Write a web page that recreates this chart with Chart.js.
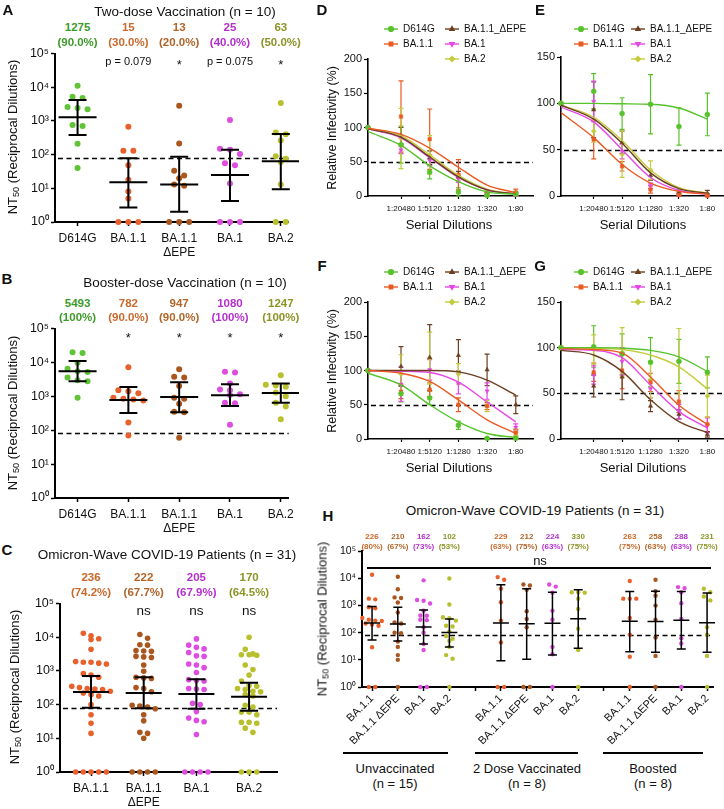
<!DOCTYPE html>
<html>
<head>
<meta charset="utf-8">
<title>Neutralization of Omicron subvariants</title>
<script src="https://cdn.jsdelivr.net/npm/chart.js@4.4.1/dist/chart.umd.min.js"></script>
<style>
  body { margin: 0; background: #fff; }
  #fig { position: relative; width: 724px; height: 809px; overflow: hidden; font-family: "Liberation Sans", Arial, sans-serif; color: #111; }
  #fig canvas { position: absolute; }
  .lbl { position: absolute; white-space: nowrap; line-height: 1; transform: translate(-50%, -50%); }
  .bar { position: absolute; background: #000; }
  sub { font-size: 70%; vertical-align: -2px; line-height: 0; }
</style>
</head>
<body>
<div id="fig"></div>
<script>
// ---------- A: two-dose vaccinated sera ----------
const variants = ['D614G', 'BA.1.1', 'BA.1.1\nΔEPE', 'BA.1', 'BA.2'];
const twoDoseD614G = [11000, 5200, 4800, 2600, 2400, 2200, 750, 700, 210, 40];
const twoDoseBA11 = [665, 130, 130, 48, 18, 8, 5, 1, 1, 1];
const twoDoseEPE = [2800, 215, 33, 24, 20, 13, 12, 1, 1, 1];
const twoDoseBA1 = [1070, 150, 140, 105, 55, 48, 14, 1, 1, 1];
const twoDoseBA2 = [3400, 450, 400, 260, 90, 75, 60, 13, 1, 1];
const twoDoseGMT = [1275, 15, 13, 25, 63];
const twoDoseLow = [380, 2.7, 2.0, 4.2, 9.4];
const twoDoseHigh = [4200, 78, 87, 140, 410];
const twoDosePct = ['90.0%', '30.0%', '20.0%', '40.0%', '50.0%'];
const twoDoseSig = ['', 'p = 0.079', '*', 'p = 0.075', '*'];

// ---------- B: booster-dose sera ----------
const boostD614G = [20000, 19000, 9800, 6500, 5500, 5200, 3600, 3000, 2800, 900];
const boostBA11 = [7200, 1500, 1400, 1230, 900, 850, 800, 750, 170, 70];
const boostEPE = [6300, 3800, 3600, 2000, 900, 850, 600, 350, 340, 60];
const boostBA1 = [5300, 5000, 2400, 1600, 1500, 1150, 1100, 650, 620, 145];
const boostBA2 = [4200, 2200, 2100, 1900, 1600, 1300, 1000, 650, 500, 210];
const boostGMT = [5493, 782, 947, 1080, 1247];
const boostLow = [2800, 320, 340, 520, 650];
const boostHigh = [11000, 1880, 2600, 2250, 2400];
const boostPct = ['100%', '90.0%', '90.0%', '100%', '100%'];
const boostSig = ['', '*', '*', '*', '*'];

// ---------- C: Omicron-wave patients ----------
const omiVariants = ['BA.1.1', 'BA.1.1\nΔEPE', 'BA.1', 'BA.2'];
const omiBA11 = [13000, 11000, 9000, 8500, 4400, 1900, 1800, 1800, 1700, 1600, 830, 750, 650, 350, 320, 300, 290, 280, 250, 220, 200, 180, 100, 50, 28, 14, 1, 1, 1, 1, 1];
const omiEPE = [12000, 9300, 6000, 5800, 4000, 3900, 3800, 2700, 2600, 2500, 1500, 980, 650, 620, 600, 320, 300, 240, 95, 90, 85, 75, 50, 33, 15, 14, 10, 1, 1, 1, 1];
const omiBA1 = [8900, 5800, 5000, 4500, 3500, 2800, 2700, 1600, 1500, 1250, 900, 550, 520, 500, 300, 290, 280, 110, 100, 62, 40, 34, 31, 13, 1, 1, 1, 1];
const omiBA2 = [10000, 4400, 3200, 3000, 3000, 2900, 1500, 1100, 750, 500, 370, 350, 300, 280, 250, 240, 200, 180, 95, 85, 60, 60, 50, 30, 30, 28, 20, 15, 1, 1, 1];
const omiGMT = [236, 222, 205, 170];
const omiLow = [81, 78, 75, 66];
const omiHigh = [700, 650, 565, 445];
const omiPct = ['74.2%', '67.7%', '67.9%', '64.5%'];
const omiSig = ['', 'ns', 'ns', 'ns'];

// ---------- H: Omicron-wave patients by vaccination status ----------
const hLabels = ['BA.1.1', 'BA.1.1 ΔEPE', 'BA.1', 'BA.2'];
const cohorts = ['Unvaccinated', '2 Dose Vaccinated', 'Boosted'];
const cohortN = ['(n = 15)', '(n = 8)', '(n = 8)'];
const unvaccinated = [
  [13700, 1800, 1700, 870, 800, 350, 300, 280, 270, 220, 200, 180, 29, 1, 1],
  [11500, 4000, 2000, 1900, 1300, 560, 240, 220, 100, 95, 47, 30, 15, 10, 1],
  [8500, 1600, 1500, 1200, 650, 430, 420, 300, 290, 160, 100, 38, 23, 1, 1],
  [10000, 1100, 370, 340, 280, 180, 170, 110, 75, 60, 50, 30, 15, 11, 1]
];
const twoDoseVacc = [
  [11200, 8900, 4200, 1330, 280, 44, 1, 1],
  [6000, 5500, 3800, 620, 320, 160, 1, 1],
  [6000, 5000, 3000, 650, 300, 30, 16, 1],
  [3100, 3100, 3000, 1800, 750, 140, 23, 1]
];
const boosted = [
  [8000, 1800, 1800, 1800, 350, 85, 13, 1],
  [9000, 3400, 2300, 1000, 300, 67, 14, 1],
  [4800, 4400, 3100, 1230, 320, 63, 40, 1],
  [4150, 3100, 2150, 1550, 160, 85, 14, 1]
];
const hGMT = [226, 210, 162, 102, 229, 212, 224, 330, 263, 258, 288, 231];
const hLow = [54, 50, 38, 30, 9.2, 10.5, 15, 27, 20, 19, 25, 19];
const hHigh = [920, 870, 690, 320, 5800, 4150, 3100, 3800, 3300, 3400, 3300, 2900];
const hPct = ['80%', '67%', '73%', '53%', '63%', '75%', '63%', '75%', '75%', '63%', '63%', '75%'];

// ---------- D-G: neutralization curves ----------
const dilutions = ['1:20480', '1:5120', '1:1280', '1:320', '1:80'];
const seriesNames = ['D614G', 'BA.1.1', 'BA.1.1_ΔEPE', 'BA.1', 'BA.2'];
const dPoints = [[100, 75, 35, 6, 1, 3], [100, 116, 83, 31, 3, 5], [100, 88, 56, 28, 3, 3], [100, 67, 52, 25, 3, 2], [100, 84, 60, 27, 4, 3]];
const dErrors = [[0, 27, 10, 6, 2, 3], [0, 52, 44, 22, 4, 5], [0, 12, 10, 8, 2, 2], [0, 5, 8, 5, 2, 2], [0, 44, 28, 5, 3, 2]];
const dFits = [[94, 74, 44, 21, 6, 2.5], [99, 90, 70, 42, 16, 5], [98, 86, 57, 28, 9, 3], [98, 85, 56, 27, 9, 3], [99, 88, 60, 30, 10, 3]];
const ePoints = [[100, 113, 89, 99, 75, 88], [100, 61, 32, 7, 1, 0], [100, 93, 58, 22, 4, 3], [100, 102, 48, 11, 3, 1], [100, 70, 45, 28, 4, 2]];
const eErrors = [[0, 19, 17, 32, 20, 23], [0, 21, 5, 4, 1, 1], [0, 30, 12, 5, 2, 3], [0, 22, 8, 3, 2, 1], [0, 12, 25, 10, 2, 1]];
const eFits = [[100, 100, 99.5, 99, 95, 83], [90, 63, 34, 14, 5, 2], [98, 83, 57, 25, 8, 3], [96, 80, 50, 20, 6, 2], [98, 85, 60, 28, 9, 3]];
const fPoints = [[100, 66, 60, 20, 1, 1], [100, 69, 72, 50, 48, 9], [100, 106, 119, 122, 101, 50], [100, 80, 101, 81, 70, 17], [100, 95, 118, 95, 48, 10]];
const fErrors = [[0, 12, 10, 6, 1, 1], [0, 10, 10, 10, 5, 5], [0, 29, 48, 23, 23, 13], [0, 25, 15, 15, 12, 5], [0, 28, 38, 15, 8, 5]];
const fFits = [[96, 79, 50, 25, 8, 2], [100, 96, 84, 57, 28, 8], [100, 100, 100, 98, 86, 64], [100, 99, 97, 83, 54, 25], null];
const gPoints = [[100, 101, 93, 84, 85, 73], [100, 73, 75, 62, 41, 16], [100, 58, 68, 36, 27, 5], [100, 70, 85, 55, 30, 15], [100, 98, 95, 65, 85, 47]];
const gErrors = [[0, 23, 22, 27, 24, 17], [0, 10, 20, 10, 12, 8], [0, 12, 25, 6, 5, 3], [0, 10, 15, 10, 8, 8], [0, 16, 27, 20, 36, 23]];
const gFits = [[100, 100, 99.5, 97, 90, 74], [99, 98, 94, 68, 37, 16], [97, 92, 74, 43, 19, 7], [98, 97, 89, 59, 30, 12], [100, 99.5, 98, 92, 79, 55]];

const cutoff = 80;      // NT50 detection limit
const halfMax = 50;     // 50% infectivity

// colours: D614G, BA.1.1, BA.1.1 ΔEPE, BA.1, BA.2
const dotColor = ['#5fc537', '#e8612c', '#a9571f', '#dd4ee0', '#b9c02d'];
const numColor = ['#3f9a2c', '#c9692c', '#b06428', '#b52fcf', '#8c9426'];
const lineColor = ['#58c22c', '#ea5b22', '#6b3f1f', '#e548e5', '#c4cc3e'];
const shapes = [['circle', 0], ['rect', 0], ['triangle', 0], ['triangle', 180], ['rectRot', 0]];

const FONT = '"Liberation Sans", Arial, sans-serif';
Chart.defaults.font.family = FONT;
Chart.defaults.animation = false;
const fig = document.getElementById('fig');
const decades = [1, 10, 100, 1000, 10000, 100000];
const sup = ['⁰', '¹', '²', '³', '⁴', '⁵'];

function put(x, y, html, css) {
  const d = document.createElement('div');
  d.className = 'lbl';
  d.style.cssText = (css || '') + ';left:' + x + 'px;top:' + y + 'px';
  d.innerHTML = html;
  fig.appendChild(d);
  return d;
}

function hbar(x1, x2, y, h) {
  const d = document.createElement('div');
  d.className = 'bar';
  d.style.cssText = `left:${x1}px;top:${y - h / 2}px;width:${x2 - x1}px;height:${h}px`;
  fig.appendChild(d);
}

function makeCanvas(area, pad) {
  const [L, T, R, B] = area;
  const left = L - pad.l, top = T - pad.t;
  const w = R + pad.r - left, h = B + pad.b - top;
  const c = document.createElement('canvas');
  c.width = w; c.height = h;
  c.style.left = left + 'px'; c.style.top = top + 'px';
  c.style.width = w + 'px'; c.style.height = h + 'px';
  fig.appendChild(c);
  return { el: c, left, top };
}

// dashed reference line
const cutLine = (value) => ({
  id: 'cutLine',
  beforeDatasetsDraw(chart) {
    const { ctx, chartArea: a, scales: { y } } = chart;
    const py = Math.round(y.getPixelForValue(value)) + 0.5;
    ctx.save();
    ctx.setLineDash([5, 3.5]);
    ctx.lineWidth = 1.6;
    ctx.strokeStyle = '#000';
    ctx.beginPath(); ctx.moveTo(a.left + 3, py); ctx.lineTo(a.right, py); ctx.stroke();
    ctx.restore();
  }
});

// geometric mean with 95% CI
const meanCI = (o) => ({
  id: 'meanCI',
  afterDatasetsDraw(chart) {
    const { ctx, scales: { x, y } } = chart;
    ctx.save();
    ctx.strokeStyle = '#000';
    ctx.lineWidth = o.lw;
    o.xs.forEach((xv, i) => {
      const px = x.getPixelForValue(xv);
      const ym = y.getPixelForValue(o.gm[i]), yl = y.getPixelForValue(o.lo[i]), yh = y.getPixelForValue(o.hi[i]);
      ctx.beginPath();
      ctx.moveTo(px, yh); ctx.lineTo(px, yl);
      ctx.moveTo(px - o.capHalf, yh); ctx.lineTo(px + o.capHalf, yh);
      ctx.moveTo(px - o.capHalf, yl); ctx.lineTo(px + o.capHalf, yl);
      ctx.moveTo(px - o.meanHalf, ym); ctx.lineTo(px + o.meanHalf, ym);
      ctx.stroke();
    });
    ctx.restore();
  }
});

// spread points that sit at similar heights into centred rows
function swarm(chart, xs, gap, bin) {
  const ys = chart.scales.y, xsc = chart.scales.x;
  chart.data.datasets.forEach((ds, i) => {
    const cx = xsc.getPixelForValue(xs[i]);
    const pts = ds.data.map(p => ({ p, py: ys.getPixelForValue(p.y) })).sort((a, b) => a.py - b.py);
    const rows = [];
    pts.forEach(o => {
      const last = rows[rows.length - 1];
      if (last && o.py - last[0].py < bin) last.push(o); else rows.push([o]);
    });
    rows.forEach(row => row.forEach((o, k) => {
      o.p.x = xsc.getValueForPixel(cx + (k - (row.length - 1) / 2) * gap);
    }));
  });
  chart.update('none');
}

function dotPanel(o) {
  const cv = makeCanvas(o.area, { l: o.yW + 3, t: 8, r: 6, b: o.xH + 3 });
  const chart = new Chart(cv.el, {
    type: 'scatter',
    data: {
      datasets: o.groups.map((vals, i) => ({
        data: vals.map(v => ({ x: o.xs[i], y: v })),
        backgroundColor: o.colors[i], borderWidth: 0,
        pointRadius: o.r, clip: false
      }))
    },
    options: {
      responsive: false, events: [],
      layout: { autoPadding: false, padding: { left: 3, top: 8, right: 6, bottom: 3 } },
      plugins: { legend: { display: false }, tooltip: { enabled: false } },
      scales: {
        x: {
          type: 'linear', min: o.xMin, max: o.xMax,
          afterFit: s => { s.height = o.xH; },
          afterBuildTicks: s => { s.ticks = o.tickXs.map(v => ({ value: v })); },
          border: { color: '#000', width: 2 },
          grid: { drawOnChartArea: false, color: '#000', tickLength: 4, tickWidth: 1.5 },
          ticks: {
            color: '#111', autoSkip: false, padding: o.xPad, maxRotation: o.rot, minRotation: o.rot,
            font: { size: o.xFont },
            callback: v => {
              const s = o.tickLabels[o.tickXs.indexOf(v)] || '';
              return s.includes('\n') ? s.split('\n') : s;
            }
          }
        },
        y: {
          type: 'logarithmic', min: 1, max: 1e5,
          afterFit: s => { s.width = o.yW; },
          afterBuildTicks: s => { s.ticks = decades.map(v => ({ value: v })); },
          border: { color: '#000', width: 2 },
          grid: { drawOnChartArea: false, color: '#000', tickLength: 4, tickWidth: 1.5 },
          ticks: { color: '#111', padding: 2, font: { size: o.yFont }, callback: v => '10' + sup[Math.round(Math.log10(v))] }
        }
      }
    },
    plugins: [cutLine(cutoff), meanCI(o)]
  });
  swarm(chart, o.xs, o.gap, o.bin);
  return { chart, cv };
}

// numbers above each group
function annotate(p, o) {
  const { chart, cv } = p;
  const x = chart.scales.x, top = cv.top + chart.chartArea.top;
  o.xs.forEach((xv, i) => {
    const px = cv.left + x.getPixelForValue(xv);
    const col = o.colors[i];
    put(px, top + o.dy1, String(o.gm[i]), `color:${col};font-weight:bold;font-size:${o.fs}px`);
    put(px, top + o.dy2, '(' + o.pct[i] + ')', `color:${col};font-weight:bold;font-size:${o.fs}px`);
    if (o.sig && o.sig[i]) {
      const star = o.sig[i] === '*';
      put(px, top + o.dy3 + (star ? 3 : 0), o.sig[i], `font-size:${star ? 13 : o.fsig}px`);
    }
  });
}

// ----- A -----
const catXs = [0, 1, 2, 3, 4];
const pA = dotPanel({
  area: [55, 52, 293, 222], xs: catXs, xMin: -0.444, xMax: 4.155, tickXs: catXs, tickLabels: variants,
  groups: [twoDoseD614G, twoDoseBA11, twoDoseEPE, twoDoseBA1, twoDoseBA2], colors: dotColor,
  gm: twoDoseGMT, lo: twoDoseLow, hi: twoDoseHigh,
  yW: 30, xH: 36, xFont: 12, yFont: 12.5, xPad: 5, rot: 0,
  r: 3, gap: 10, bin: 5.5, meanHalf: 19, capHalf: 9, lw: 2
});
annotate(pA, { xs: catXs, gm: twoDoseGMT, pct: twoDosePct, sig: twoDoseSig, colors: numColor, dy1: -26, dy2: -11, dy3: 7, fs: 11.5, fsig: 11 });

// ----- B -----
const pB = dotPanel({
  area: [55, 327, 293, 498], xs: catXs, xMin: -0.444, xMax: 4.155, tickXs: catXs, tickLabels: variants,
  groups: [boostD614G, boostBA11, boostEPE, boostBA1, boostBA2], colors: dotColor,
  gm: boostGMT, lo: boostLow, hi: boostHigh,
  yW: 30, xH: 36, xFont: 12, yFont: 12.5, xPad: 5, rot: 0,
  r: 3, gap: 10, bin: 5.5, meanHalf: 19, capHalf: 9, lw: 2
});
annotate(pB, { xs: catXs, gm: boostGMT, pct: boostPct, sig: boostSig, colors: numColor, dy1: -25, dy2: -11, dy3: 5, fs: 11.5, fsig: 11 });

// ----- C -----
const omiXs = [0, 1, 2, 3];
const pC = dotPanel({
  area: [60, 602, 277, 772], xs: omiXs, xMin: -0.589, xMax: 3.53, tickXs: omiXs, tickLabels: omiVariants,
  groups: [omiBA11, omiEPE, omiBA1, omiBA2], colors: dotColor.slice(1),
  gm: omiGMT, lo: omiLow, hi: omiHigh,
  yW: 30, xH: 36, xFont: 12, yFont: 12.5, xPad: 5, rot: 0,
  r: 2.8, gap: 7.7, bin: 5.5, meanHalf: 18, capHalf: 9, lw: 2
});
annotate(pC, { xs: omiXs, gm: omiGMT, pct: omiPct, sig: omiSig, colors: numColor.slice(1), dy1: -26, dy2: -11, dy3: 7, fs: 11.5, fsig: 13.5 });

// ----- H -----
const hXs = [0, 1, 2, 3, 5, 6, 7, 8, 10, 11, 12, 13];
const hTicks = [0, 1, 2, 3, 4, 5, 6, 7, 8, 9, 10, 11, 12, 13];
const hTickLabels = hTicks.map(v => { const i = hXs.indexOf(v); return i < 0 ? '' : hLabels[i % 4]; });
const hGroups = [...unvaccinated, ...twoDoseVacc, ...boosted];
const hDot = hXs.map((_, i) => dotColor[1 + i % 4]);
const hNum = hXs.map((_, i) => numColor[1 + i % 4]);
const pH = dotPanel({
  area: [362, 551, 713, 687], xs: hXs, xMin: -0.39, xMax: 13.23, tickXs: hTicks, tickLabels: hTickLabels,
  groups: hGroups, colors: hDot, gm: hGMT, lo: hLow, hi: hHigh,
  yW: 24, xH: 62, xFont: 11, yFont: 10.5, xPad: 1, rot: 45,
  r: 2.2, gap: 6.5, bin: 4.2, meanHalf: 8, capHalf: 4.5, lw: 1.5
});
annotate(pH, { xs: hXs, gm: hGMT, pct: hPct, colors: hNum, dy1: -14, dy2: -4, fs: 8 });

// ----- D-G dose response -----
const doseX = [0, 1.15, 2.15, 3.15, 4.15, 5.15];

const errBars = {
  id: 'errBars',
  beforeDatasetsDraw(chart) {
    const { ctx, scales: { x, y } } = chart;
    ctx.save();
    ctx.lineWidth = 1.2;
    chart.data.datasets.forEach(ds => {
      if (!ds.err) return;
      ctx.strokeStyle = ds.borderColor;
      ds.data.forEach((p, k) => {
        const e = ds.err[k];
        if (!e) return;
        const px = x.getPixelForValue(p.x), y1 = y.getPixelForValue(p.y + e), y2 = y.getPixelForValue(Math.max(0, p.y - e));
        ctx.beginPath();
        ctx.moveTo(px, y1); ctx.lineTo(px, y2);
        ctx.moveTo(px - 2.5, y1); ctx.lineTo(px + 2.5, y1);
        ctx.moveTo(px - 2.5, y2); ctx.lineTo(px + 2.5, y2);
        ctx.stroke();
      });
    });
    ctx.restore();
  }
};

const doseLegend = (spots, cv) => ({
  id: 'doseLegend',
  afterDraw(chart) {
    const ctx = chart.ctx;
    ctx.save();
    spots.forEach(([i, px, py]) => {
      const x = px - cv.left, y = py - cv.top;
      ctx.strokeStyle = lineColor[i]; ctx.fillStyle = lineColor[i]; ctx.lineWidth = 1.4;
      ctx.beginPath(); ctx.moveTo(x - 7, y); ctx.lineTo(x + 7, y); ctx.stroke();
      Chart.helpers.drawPoint(ctx, { pointStyle: shapes[i][0], rotation: shapes[i][1], radius: 2.4, borderWidth: 1 }, x, y);
      ctx.fillStyle = '#111';
      ctx.font = '10px ' + FONT;
      ctx.textBaseline = 'middle';
      ctx.fillText(seriesNames[i], x + 12, y + 0.5);
    });
    ctx.restore();
  }
});

function dosePanel(o) {
  const cv = makeCanvas(o.area, { l: 30, t: o.area[1] - o.legY + 8, r: 4, b: 22 });
  const datasets = [];
  o.fits.forEach((f, i) => {
    if (!f) return;
    datasets.push({
      type: 'line', data: f.map((v, k) => ({ x: doseX[k], y: v })),
      borderColor: lineColor[i], borderWidth: 1.4, pointRadius: 0, fill: false,
      cubicInterpolationMode: 'monotone'
    });
  });
  o.pts.forEach((p, i) => {
    datasets.push({
      type: 'scatter', data: p.map((v, k) => ({ x: doseX[k], y: v })), err: o.errs[i],
      backgroundColor: lineColor[i], borderColor: lineColor[i], borderWidth: 0.5,
      pointStyle: shapes[i][0], pointRotation: shapes[i][1], pointRadius: 2.5, clip: false
    });
  });
  const legendSpots = [
    [0, o.col1, o.legY], [1, o.col1, o.legY + 15],
    [2, o.col2, o.legY], [3, o.col2, o.legY + 15], [4, o.col2, o.legY + 30]
  ];
  new Chart(cv.el, {
    type: 'scatter',
    data: { datasets },
    options: {
      responsive: false, events: [],
      layout: { autoPadding: false, padding: { left: 4, top: o.area[1] - o.legY + 8, right: 4, bottom: 6 } },
      plugins: { legend: { display: false }, tooltip: { enabled: false } },
      scales: {
        x: {
          type: 'linear', min: 0, max: o.xMax,
          afterFit: s => { s.height = 16; },
          afterBuildTicks: s => { s.ticks = doseX.slice(1).map(v => ({ value: v })); },
          border: { color: '#000', width: 1.6 },
          grid: { drawOnChartArea: false, color: '#000', tickLength: 3, tickWidth: 1.2 },
          ticks: { color: '#111', autoSkip: false, maxRotation: 0, padding: 5, font: { size: 8 },
                   callback: v => dilutions[doseX.indexOf(v) - 1] }
        },
        y: {
          type: 'linear', min: 0, max: o.yMax,
          afterFit: s => { s.width = 26; },
          afterBuildTicks: s => { const t = []; for (let v = 0; v <= o.yMax; v += 50) t.push({ value: v }); s.ticks = t; },
          border: { color: '#000', width: 1.6 },
          grid: { drawOnChartArea: false, color: '#000', tickLength: 4, tickWidth: 1.2 },
          ticks: { color: '#111', padding: 2, font: { size: 11 } }
        }
      }
    },
    plugins: [cutLine(halfMax), errBars, doseLegend(legendSpots, cv)]
  });
}

dosePanel({ area: [368, 59, 533, 196], yMax: 200, xMax: 5.75, legY: 29, col1: 391, col2: 452, pts: dPoints, errs: dErrors, fits: dFits });
dosePanel({ area: [561, 57, 723, 196], yMax: 150, xMax: 5.7, legY: 29, col1: 581, col2: 638, pts: ePoints, errs: eErrors, fits: eFits });
dosePanel({ area: [368, 302, 533, 439], yMax: 200, xMax: 5.75, legY: 272, col1: 391, col2: 452, pts: fPoints, errs: fErrors, fits: fFits });
dosePanel({ area: [561, 302, 723, 439], yMax: 150, xMax: 5.7, legY: 272, col1: 581, col2: 638, pts: gPoints, errs: gErrors, fits: gFits });

// ----- titles, panel letters, axis titles -----
const letter = 'font-weight:bold;font-size:15px';
put(8, 9, 'A', letter); put(7, 278, 'B', letter); put(7, 549, 'C', letter);
put(322, 9, 'D', letter); put(540, 9, 'E', letter); put(322, 265, 'F', letter); put(540, 265, 'G', letter);
put(328, 515, 'H', letter);

const ttl = 'font-size:13.5px';
put(185, 12, 'Two-dose Vaccination (n = 10)', ttl);
put(185, 283, 'Booster-dose Vaccination (n = 10)', ttl);
put(167, 555, 'Omicron-Wave COVID-19 Patients (n = 31)', ttl);
put(535, 511, 'Omicron-Wave COVID-19 Patients (n = 31)', ttl);

const ytl = 'font-size:13px;transform:translate(-50%,-50%) rotate(-90deg)';
const nt50 = 'NT<sub>50</sub> (Reciprocal Dilutions)';
put(12, 137, nt50, ytl); put(12, 413, nt50, ytl); put(14, 687, nt50, ytl); put(322, 619, nt50, ytl);
const rtl = 'font-size:12.5px;transform:translate(-50%,-50%) rotate(-90deg)';
put(332, 128, 'Relative Infectivity (%)', rtl); put(332, 371, 'Relative Infectivity (%)', rtl);
const sd = 'font-size:13px';
put(449, 224, 'Serial Dilutions', sd); put(643, 224, 'Serial Dilutions', sd);
put(449, 467, 'Serial Dilutions', sd); put(643, 467, 'Serial Dilutions', sd);

// H: comparison bracket and cohort labels
hbar(367, 711, 568, 1.5);
put(540, 560, 'ns', 'font-size:13px');
const groupSpans = [[343, 448], [475, 578], [603, 703]];
const groupCenters = [395, 527, 653];
groupSpans.forEach(([a, b], i) => {
  hbar(a, b, 753, 2.5);
  put(groupCenters[i], 768, cohorts[i], 'font-size:13px');
  put(groupCenters[i], 783, cohortN[i], 'font-size:13px');
});
</script>
</body>
</html>
